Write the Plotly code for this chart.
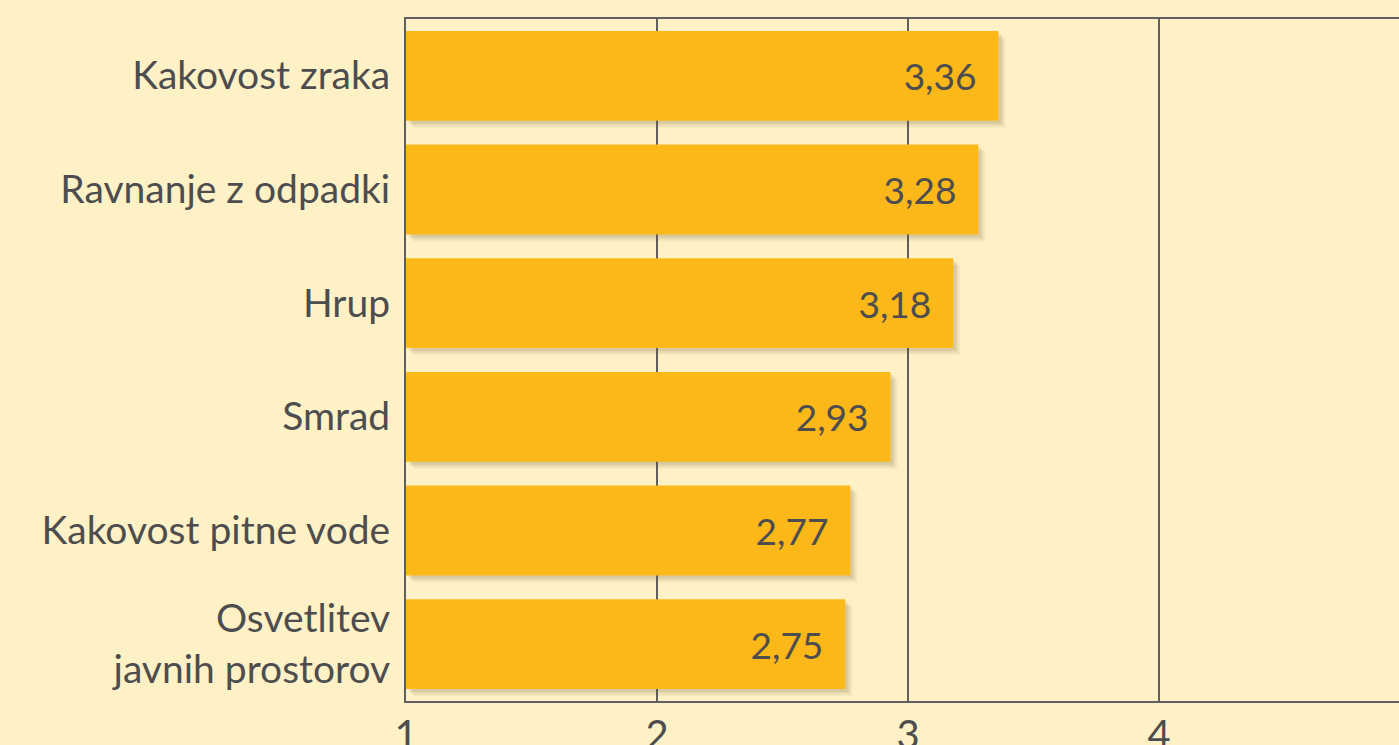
import plotly.graph_objects as go

categories = ["Kakovost zraka", "Ravnanje z odpadki", "Hrup", "Smrad",
              "Kakovost pitne vode", "Osvetlitev<br>javnih prostorov"]
values = [3.36, 3.28, 3.18, 2.93, 2.77, 2.75]
tick_vals = [1, 2, 3, 4, 5]
tick_text = ["1", "2", "3", "4", "5"]

AXIS_MIN = 1
BG = "#FEF1C6"
BAR = "#FBB818"
TXT = "#4D4D4F"
FONT = "Gill Sans, Gill Sans MT, Lato, sans-serif"

labels = [f"{v:.2f}".replace(".", ",") + "\u00a0\u00a0" for v in values]
lengths = [v - AXIS_MIN for v in values]

fig = go.Figure()
# soft drop shadow layers
for shift, alpha in [(7, 0.06), (5, 0.09), (3, 0.12)]:
    fig.add_trace(go.Bar(
        y=categories, x=lengths, base=[AXIS_MIN + shift / 251] * len(values),
        orientation="h", width=0.79, offset=-0.395 + shift / 113.7,
        marker=dict(color=f"rgba(110,90,40,{alpha})", line=dict(width=0)),
        hoverinfo="skip", showlegend=False))

fig.add_trace(go.Bar(
    y=categories, x=lengths, base=[AXIS_MIN] * len(values),
    orientation="h", width=0.79, offset=-0.395,
    marker=dict(color=BAR, line=dict(width=0)),
    text=labels, textposition="inside", insidetextanchor="end",
    textangle=0, constraintext="none",
    insidetextfont=dict(family=FONT, size=37, color=TXT),
    showlegend=False))

fig.update_layout(
    width=1399, height=745,
    paper_bgcolor=BG, plot_bgcolor=BG,
    margin=dict(l=406, r=0, t=19, b=44),
    barmode="overlay",
    font=dict(family=FONT, size=36, color=TXT),
    xaxis=dict(range=[AXIS_MIN, 4.956], tickvals=tick_vals, ticktext=tick_text,
               showgrid=True, gridcolor="#5f5f5f", gridwidth=2,
               showline=True, linecolor="#5f5f5f", linewidth=2, mirror=True,
               zeroline=False, ticks="", ticklabelstandoff=-2,
               tickfont=dict(size=40, color=TXT), automargin=False, fixedrange=True),
    yaxis=dict(autorange="reversed", showline=True, linecolor="#5f5f5f", linewidth=2,
               showgrid=False, ticks="", ticklabelstandoff=6,
               tickfont=dict(size=39, color=TXT), automargin=False, fixedrange=True),
)

fig.write_html("out.html", config={"displayModeBar": False},
               post_script="document.body.style.margin='0';"
                           "document.body.style.background='" + BG + "';")
